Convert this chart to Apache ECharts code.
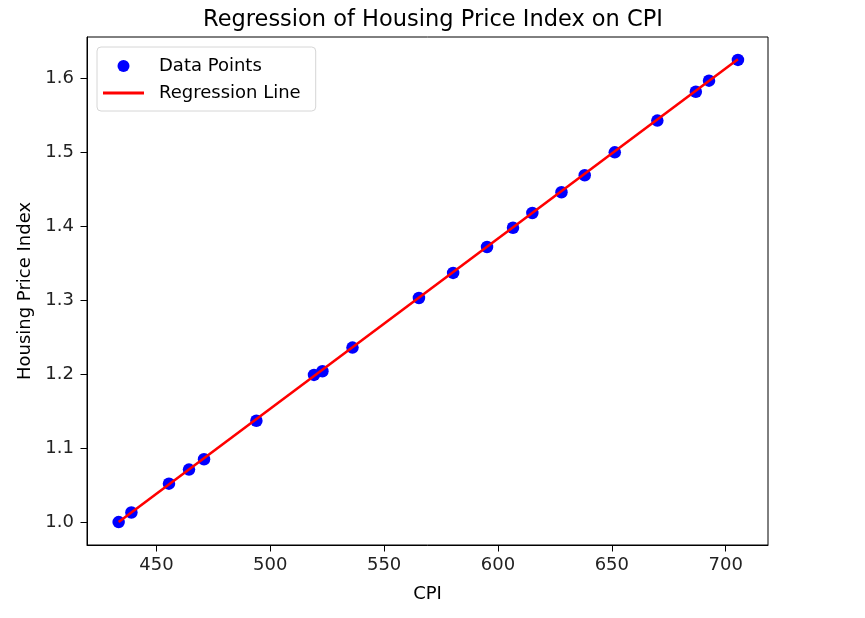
<!DOCTYPE html>
<html>
<head>
<meta charset="utf-8">
<script src="https://cdn.jsdelivr.net/npm/echarts@6/dist/echarts.min.js"></script>
<style>html,body{margin:0;padding:0;background:#fff;}#c{width:865px;height:618px;}</style>
</head>
<body>
<div id="c"></div>
<script>
// Data
const cpi = [433.4, 439.0, 455.5, 464.3, 470.9, 493.9, 519.2, 522.9, 536.1, 565.3, 580.3, 595.2, 606.6, 615.1, 627.9, 638.1, 651.3, 670.0, 686.9, 692.7, 705.4];
const hpi = [1.000, 1.013, 1.052, 1.071, 1.085, 1.137, 1.199, 1.204, 1.236, 1.303, 1.337, 1.372, 1.398, 1.418, 1.446, 1.469, 1.500, 1.543, 1.582, 1.597, 1.625];
const lineX = [433.4, 705.4];
const lineY = [1.000, 1.626];

const chart = echarts.init(document.getElementById('c'), null, {renderer: 'canvas'});
const font = 'DejaVu Sans';
chart.setOption({
  animation: false,
  backgroundColor: '#fff',
  textStyle: {fontFamily: font},
  title: {
    text: 'Regression of Housing Price Index on CPI',
    left: 428, top: 4, textAlign: 'center',
    textStyle: {fontFamily: font, fontSize: 22.5, fontWeight: 'normal', color: '#000'}
  },
  legend: {
    orient: 'vertical', left: 97, top: 47,
    padding: [10, 15, 9, 6],
    itemWidth: 41, itemHeight: 12, itemGap: 9,
    borderColor: '#d6d6d6', borderWidth: 1, borderRadius: 4,
    backgroundColor: 'rgba(255,255,255,0.8)',
    textStyle: {fontFamily: font, fontSize: 18, color: '#000', padding: [0, 0, 0, 10]},
    data: [
      {name: 'Data Points', icon: 'circle', itemStyle: {color: '#0000ff', opacity: 1}},
      {name: 'Regression Line', icon: 'path://M0,0 M41,12 M0,4.6 L41,4.6 L41,7.4 L0,7.4 Z', itemStyle: {color: '#ff0000'}}
    ]
  },
  grid: {left: 87, right: 97, top: 37, bottom: 73, show: true, borderColor: '#000', borderWidth: 1, containLabel: false},
  xAxis: {
    type: 'value', min: 419.5, max: 718.6, minInterval: 50, maxInterval: 50,
    name: 'CPI', nameLocation: 'middle', nameGap: 40,
    nameTextStyle: {fontFamily: font, fontSize: 18, color: '#000'},
    axisLine: {show: true, lineStyle: {color: '#000', width: 1}},
    axisTick: {show: true, length: 6.5, inside: false, lineStyle: {color: '#000'}},
    axisLabel: {fontFamily: font, fontSize: 18, color: '#222', margin: 11, showMinLabel: false, showMaxLabel: false,
      formatter: v => (Math.abs(v % 50) < 1e-6 ? String(v) : '')},
    splitLine: {show: false}
  },
  yAxis: {
    type: 'value', min: 0.969, max: 1.656, minInterval: 0.1, maxInterval: 0.1,
    name: 'Housing Price Index', nameLocation: 'middle', nameGap: 52,
    nameTextStyle: {fontFamily: font, fontSize: 18, color: '#000'},
    axisLine: {show: true, lineStyle: {color: '#000', width: 1}},
    axisTick: {show: true, length: 6.5, lineStyle: {color: '#000'}},
    axisLabel: {fontFamily: font, fontSize: 18, color: '#222', margin: 13, showMinLabel: false, showMaxLabel: false,
      formatter: v => v.toFixed(1)},
    splitLine: {show: false}
  },
  series: [
    {
      name: 'Data Points', type: 'scatter', symbol: 'circle', symbolSize: 12.5,
      itemStyle: {color: '#0000ff', opacity: 1},
      data: cpi.map((x, i) => [x, hpi[i]]), z: 2
    },
    {
      name: 'Regression Line', type: 'line', symbol: 'none', showSymbol: false,
      lineStyle: {color: '#ff0000', width: 2.6},
      itemStyle: {color: '#ff0000'},
      data: lineX.map((x, i) => [x, lineY[i]]), z: 3
    }
  ]
});
</script>
</body>
</html>
